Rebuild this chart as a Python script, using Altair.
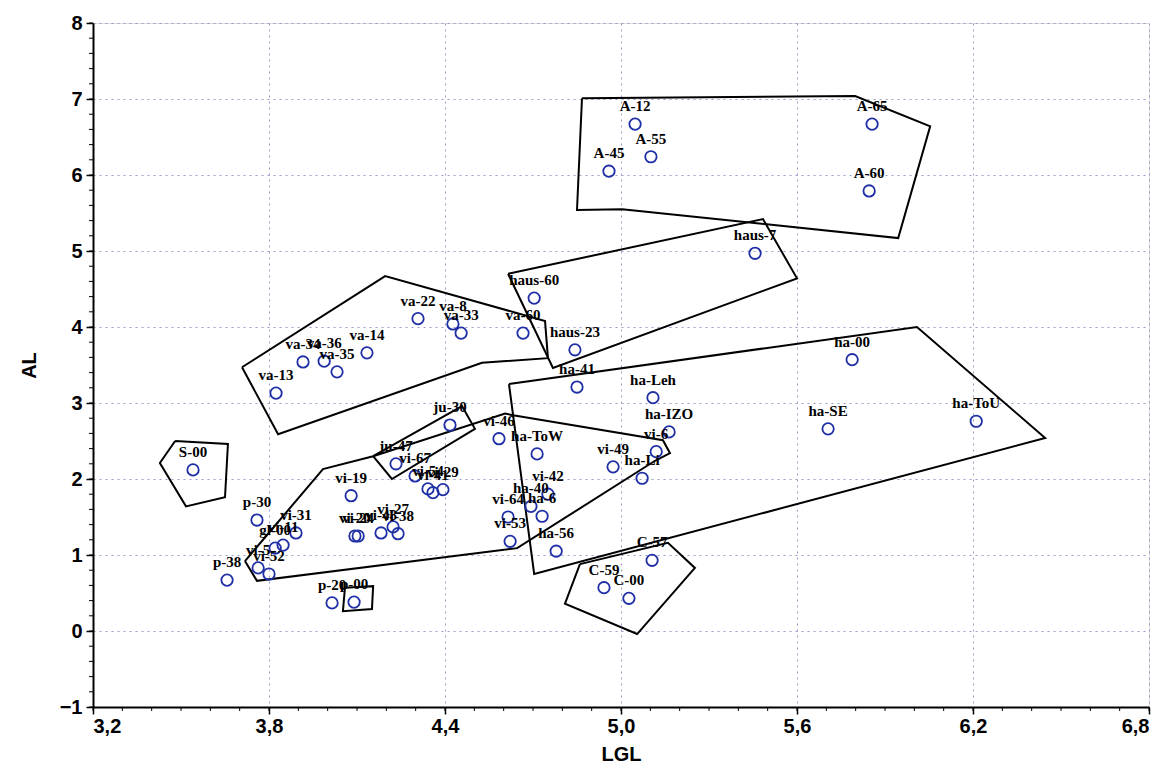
import altair as alt
import pandas as pd

# Points
names = ["S-00", "p-30", "vi-31", "gl-00", "vi-11", "vi-5", "vi-52", "p-38", "p-20", "p-00",
         "vi-19", "vi-20", "vi-24", "vi-27", "vi-48", "vi-38", "ju-47", "vi-67", "vi-54", "vi-41",
         "vi-29", "ju-30", "vi-46", "ha-ToW", "vi-42", "ha-40", "ha-6", "vi-64", "vi-53", "ha-56",
         "vi-49", "ha-Li", "vi-6", "ha-IZO", "ha-Leh", "ha-41", "haus-23", "va-60", "haus-60", "va-22",
         "va-8", "va-33", "va-14", "va-35", "va-34", "va-36", "va-13", "A-12", "A-55", "A-45",
         "A-65", "A-60", "haus-7", "ha-00", "ha-SE", "ha-ToU", "C-57", "C-59", "C-00"]
lgl = [3.541, 3.759, 3.892, 3.821, 3.848, 3.763, 3.800, 3.657, 4.015, 4.090,
       4.080, 4.093, 4.104, 4.223, 4.182, 4.240, 4.233, 4.298, 4.342, 4.359,
       4.393, 4.417, 4.584, 4.714, 4.751, 4.693, 4.731, 4.615, 4.622, 4.779,
       4.973, 5.072, 5.120, 5.164, 5.109, 4.850, 4.843, 4.666, 4.704, 4.308,
       4.427, 4.455, 4.134, 4.032, 3.916, 3.988, 3.824, 5.048, 5.102, 4.959,
       5.856, 5.846, 5.457, 5.788, 5.706, 6.211, 5.106, 4.942, 5.027]
al = [2.12, 1.46, 1.29, 1.09, 1.13, 0.83, 0.75, 0.67, 0.37, 0.38,
      1.78, 1.25, 1.25, 1.37, 1.29, 1.28, 2.20, 2.04, 1.87, 1.82,
      1.86, 2.71, 2.53, 2.33, 1.80, 1.64, 1.51, 1.50, 1.18, 1.05,
      2.16, 2.01, 2.36, 2.62, 3.07, 3.21, 3.70, 3.92, 4.38, 4.11,
      4.04, 3.92, 3.66, 3.41, 3.54, 3.55, 3.13, 6.67, 6.24, 6.05,
      6.67, 5.79, 4.97, 3.57, 2.66, 2.76, 0.93, 0.57, 0.43]

# Group hulls (closed polygons)
hull_A_x = [4.867, 5.798, 6.054, 5.945, 5.004, 4.850, 4.867]
hull_A_y = [7.01, 7.04, 6.64, 5.17, 5.55, 5.54, 7.01]
hull_haus_x = [4.615, 5.484, 5.600, 4.768, 4.615]
hull_haus_y = [4.70, 5.42, 4.64, 3.46, 4.70]
hull_va_x = [3.708, 4.196, 4.741, 4.751, 4.526, 3.831, 3.708]
hull_va_y = [3.47, 4.67, 4.08, 3.59, 3.53, 2.59, 3.47]
hull_ha_x = [4.618, 6.009, 6.446, 4.704, 4.618]
hull_ha_y = [3.25, 4.00, 2.54, 0.75, 3.25]
hull_vi_x = [3.718, 3.984, 4.155, 4.605, 4.632, 5.143, 5.167, 5.116, 4.646, 3.759, 3.718]
hull_vi_y = [0.92, 2.13, 2.30, 2.86, 2.84, 2.51, 2.34, 2.24, 1.09, 0.66, 0.92]
hull_ju_x = [4.155, 4.458, 4.502, 4.219, 4.155]
hull_ju_y = [2.30, 2.96, 2.66, 2.00, 2.30]
hull_p_x = [4.059, 4.155, 4.151, 4.052, 4.059]
hull_p_y = [0.57, 0.59, 0.29, 0.26, 0.57]
hull_S_x = [3.480, 3.660, 3.650, 3.517, 3.428, 3.480]
hull_S_y = [2.50, 2.46, 1.76, 1.64, 2.21, 2.50]
hull_C_x = [4.860, 5.160, 5.252, 5.055, 4.809, 4.860]
hull_C_y = [0.88, 1.16, 0.83, -0.04, 0.36, 0.88]

x_ticks = [3.2, 3.8, 4.4, 5.0, 5.6, 6.2, 6.8]
y_ticks = [-1, 0, 1, 2, 3, 4, 5, 6, 7, 8]
x_minor = [round(3.2 + 0.1 * i, 1) for i in range(37)]
y_minor = [round(-1 + 0.2 * i, 1) for i in range(46)]

pts = pd.DataFrame({"name": names, "LGL": lgl, "AL": al})

hulls = {"A": (hull_A_x, hull_A_y), "haus": (hull_haus_x, hull_haus_y),
         "va": (hull_va_x, hull_va_y), "ha": (hull_ha_x, hull_ha_y),
         "vi": (hull_vi_x, hull_vi_y), "ju": (hull_ju_x, hull_ju_y),
         "p": (hull_p_x, hull_p_y), "S": (hull_S_x, hull_S_y), "C": (hull_C_x, hull_C_y)}
rows = []
for g, (xs, ys) in hulls.items():
    for i, (xv, yv) in enumerate(zip(xs, ys)):
        rows.append({"group": g, "order": i, "LGL": xv, "AL": yv})
hdf = pd.DataFrame(rows)

W, H = 1056, 684
xscale = alt.Scale(domain=[3.2, 6.8], nice=False, zero=False)
yscale = alt.Scale(domain=[-1, 8], nice=False, zero=False)

FONT = "Liberation Sans"
xaxis = alt.Axis(values=x_ticks, title="LGL",
                 labelExpr="replace(format(datum.value, '.1f'), '.', ',')",
                 grid=True, gridDash=[2, 4], gridColor="#9a9ac6", gridWidth=1,
                 labelFont=FONT, labelFontSize=20, labelFontWeight="bold",
                 labelColor="black", titleFont=FONT, titleFontSize=20,
                 titleFontWeight="bold", titleColor="black", titlePadding=8,
                 tickColor="black", tickSize=7, tickWidth=1.5, domainColor="black",
                 domainWidth=2, labelPadding=2)
yaxis = alt.Axis(values=y_ticks, title="AL", format="d",
                 grid=True, gridDash=[2, 4], gridColor="#9a9ac6", gridWidth=1,
                 labelFont=FONT, labelFontSize=20, labelFontWeight="bold",
                 labelColor="black", titleFont=FONT, titleFontSize=20,
                 titleFontWeight="bold", titleColor="black", titlePadding=20,
                 tickColor="black", tickSize=7, tickWidth=1.5, domainColor="black",
                 domainWidth=2, labelPadding=4)

lines = alt.Chart(hdf).mark_line(color="black", strokeWidth=2).encode(
    x=alt.X("LGL:Q", scale=xscale, axis=xaxis),
    y=alt.Y("AL:Q", scale=yscale, axis=yaxis),
    detail="group:N",
    order="order:Q",
)

xminor = alt.Chart(pd.DataFrame({"v": x_minor})).mark_rule(color="black", strokeWidth=1).encode(
    x=alt.X("v:Q", scale=xscale), y=alt.value(H), y2=alt.value(H + 4))
yminor = alt.Chart(pd.DataFrame({"v": y_minor})).mark_rule(color="black", strokeWidth=1).encode(
    y=alt.Y("v:Q", scale=yscale), x=alt.value(0), x2=alt.value(-4))

points = alt.Chart(pts).mark_point(shape="circle", filled=False, color="#1f2fa6",
                                   size=130, strokeWidth=1.8, opacity=1).encode(
    x=alt.X("LGL:Q", scale=xscale),
    y=alt.Y("AL:Q", scale=yscale),
)

labels = alt.Chart(pts).mark_text(font="Liberation Serif", fontSize=15, fontWeight="bold",
                                  color="black", dy=-18).encode(
    x=alt.X("LGL:Q", scale=xscale),
    y=alt.Y("AL:Q", scale=yscale),
    text="name:N",
)

chart = alt.layer(lines, xminor, yminor, points, labels).properties(
    width=W, height=H,
    padding={"left": 11, "top": 5, "right": 5, "bottom": 5},
).configure_view(stroke="black", strokeWidth=2).configure(background="white")

chart.save("out.html", embed_options={"renderer": "svg", "actions": False})
